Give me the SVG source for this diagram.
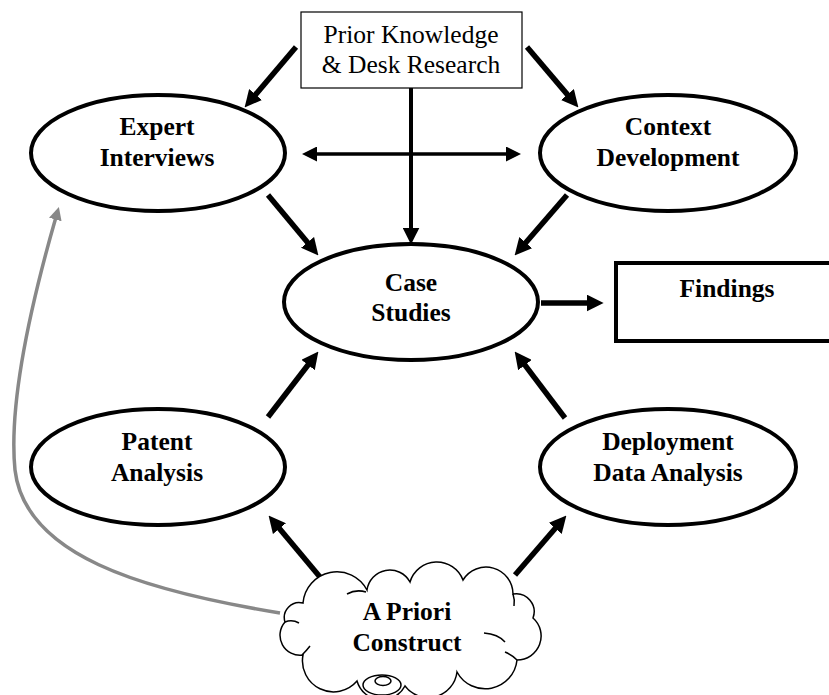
<svg xmlns="http://www.w3.org/2000/svg" width="829" height="695" viewBox="0 0 829 695">
<style>
  .node { fill: #fff; stroke: #000; stroke-width: 4; }
  .lbl { font-family: "Liberation Serif", "Times New Roman", serif; font-size: 25.5px; fill: #000; text-anchor: middle; }
  .b { font-weight: bold; }
  .arr { stroke: #000; stroke-width: 5.5; fill: none; marker-end: url(#ah); }
  .cloud { fill: #fff; stroke: #000; stroke-width: 1.5; }
  .crease { fill: none; stroke: #000; stroke-width: 1.5; }
</style>
<defs>
  <marker id="ah" viewBox="0 0 10 10" refX="2" refY="5" markerWidth="17" markerHeight="17" markerUnits="userSpaceOnUse" orient="auto">
    <path d="M0,0 L10,5 L0,10 z" fill="#000"/>
  </marker>
  <marker id="ahs" viewBox="0 0 10 10" refX="2" refY="5" markerWidth="15" markerHeight="15" markerUnits="userSpaceOnUse" orient="auto-start-reverse">
    <path d="M0,0 L10,5 L0,10 z" fill="#000"/>
  </marker>
  <marker id="ahg" viewBox="0 0 10 10" refX="2" refY="5" markerWidth="13" markerHeight="13" markerUnits="userSpaceOnUse" orient="auto">
    <path d="M0,0 L10,5 L0,10 z" fill="#888"/>
  </marker>
</defs>

<g id="connectors">
  <line class="arr" x1="296" y1="47" x2="253.4" y2="97.1"/>
  <line class="arr" x1="527" y1="47" x2="569.6" y2="97.1"/>
  <line class="arr" x1="411" y1="88" x2="411" y2="231" style="stroke-width:4"/>
  <line x1="314" y1="154" x2="509" y2="154" stroke="#000" stroke-width="3.5" marker-start="url(#ahs)" marker-end="url(#ahs)"/>
  <line class="arr" x1="268" y1="195" x2="309.7" y2="245"/>
  <line class="arr" x1="567" y1="195" x2="523.5" y2="245.2"/>
  <line class="arr" x1="268" y1="417" x2="310.1" y2="362.3"/>
  <line class="arr" x1="565" y1="418" x2="522.9" y2="362.4"/>
  <line class="arr" x1="320" y1="577" x2="277.3" y2="526"/>
  <line class="arr" x1="515" y1="575" x2="557.5" y2="525.8"/>
  <line class="arr" x1="541" y1="303" x2="590" y2="303"/>
  <path d="M280,613 C140,590 25,555 15,470 C8,400 35,290 56,217" fill="none" stroke="#888" stroke-width="3.5" marker-end="url(#ahg)"/>
</g>

<g id="prior">
  <rect x="301" y="12" width="221" height="76" fill="#fff" stroke="#000" stroke-width="1.2"/>
  <text class="lbl" x="411" y="43">Prior Knowledge</text>
  <text class="lbl" x="411" y="73">&amp; Desk Research</text>
</g>

<g id="expert">
  <ellipse class="node" cx="158" cy="153" rx="127" ry="58"/>
  <text class="lbl b" x="157" y="135">Expert</text>
  <text class="lbl b" x="157" y="166">Interviews</text>
</g>

<g id="context">
  <ellipse class="node" cx="668" cy="153" rx="128" ry="58"/>
  <text class="lbl b" x="668" y="135">Context</text>
  <text class="lbl b" x="668" y="166">Development</text>
</g>

<g id="case">
  <ellipse class="node" cx="411" cy="302" rx="127" ry="58"/>
  <text class="lbl b" x="411" y="291">Case</text>
  <text class="lbl b" x="411" y="321">Studies</text>
</g>

<g id="findings">
  <rect x="616" y="263" width="230" height="78" fill="#fff" stroke="#000" stroke-width="4"/>
  <text class="lbl b" x="727" y="297">Findings</text>
</g>

<g id="patent">
  <ellipse class="node" cx="158" cy="467" rx="127" ry="58"/>
  <text class="lbl b" x="157" y="450">Patent</text>
  <text class="lbl b" x="157" y="481">Analysis</text>
</g>

<g id="deployment">
  <ellipse class="node" cx="668" cy="467" rx="128" ry="58"/>
  <text class="lbl b" x="668" y="450">Deployment</text>
  <text class="lbl b" x="668" y="481">Data Analysis</text>
</g>

<g id="apriori">
  <path class="cloud" d="M285,622 A15,15 0 0 1 303,603 A34,34 0 0 1 367,590 A23,23 0 0 1 410,582 A28,28 0 0 1 463,580 A27,27 0 0 1 513,594 A18,18 0 0 1 533,618 A24,24 0 0 1 517,660 A32,32 0 0 1 457,672 A29,29 0 0 1 405,686 A26,26 0 0 1 357,681 A31,31 0 0 1 303,655 A20,20 0 0 1 285,622 Z"/>
  <path class="crease" d="M347,594 Q356,589 366,592"/>
  <path class="crease" d="M484,633 Q498,634 505,642"/>
  <path class="crease" d="M285,622 Q292,619 299,623"/>
  <path class="crease" d="M505,652 Q512,655 517,660"/>
  <path class="crease" d="M302,655 Q307,650 310,646"/>
  <path class="crease" d="M513,594 Q515,600 514,606"/>
  <ellipse cx="382" cy="685" rx="19" ry="10" fill="#fff" stroke="#000" stroke-width="1.5"/>
  <ellipse cx="383" cy="681" rx="8" ry="4.5" fill="none" stroke="#000" stroke-width="1.5"/>
  <text class="lbl b" x="407" y="620">A Priori</text>
  <text class="lbl b" x="407" y="651">Construct</text>
</g>
</svg>
